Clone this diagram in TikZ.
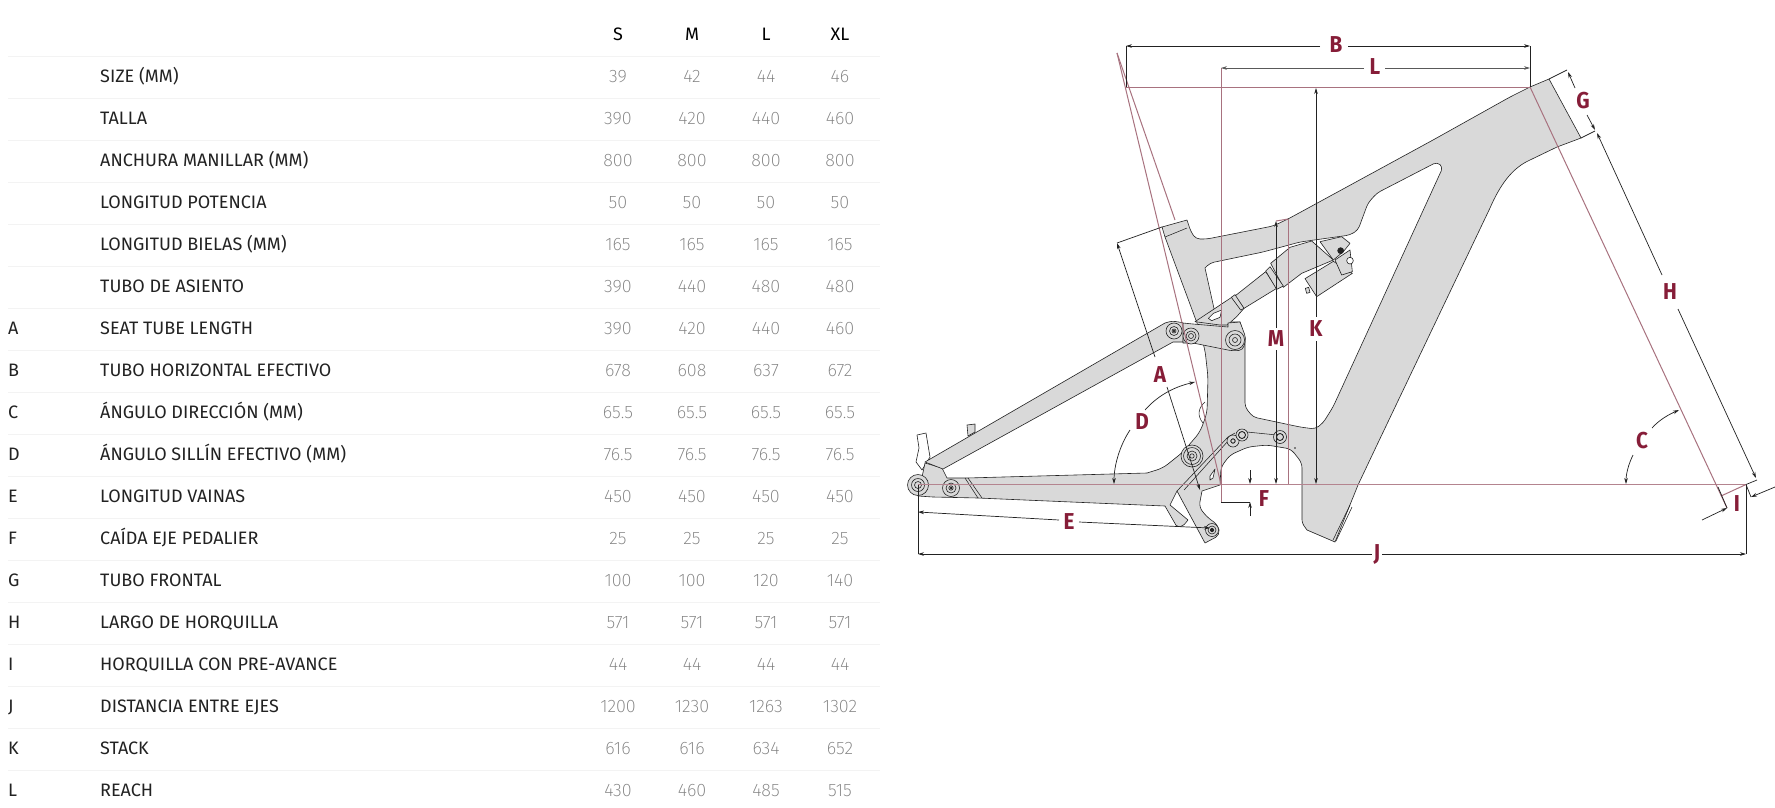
\documentclass[tikz,border=0pt]{standalone}
\usepackage{fontspec}
\usetikzlibrary{arrows.meta}
\setmainfont{Fira Sans}
\newfontfamily\numfont[UprightFont=* ExtraLight]{Fira Sans}
\newfontfamily\dimfont[UprightFont=* Bold,FakeStretch=0.9]{Fira Sans}
\definecolor{maroon}{HTML}{861D38}
\definecolor{redline}{HTML}{A8727F}
\definecolor{axisred}{HTML}{B4848F}
\definecolor{framefill}{HTML}{D9D9D9}
\definecolor{rowline}{HTML}{F3F3F3}
\definecolor{numgray}{HTML}{7E7E7E}
\definecolor{ink}{HTML}{222222}
\tikzset{
  labeltxt/.style={anchor=base west,inner sep=0pt,text=ink,font=\fontsize{18}{20}\selectfont},
  numtxt/.style={anchor=base,inner sep=0pt,text=numgray,font=\numfont\fontsize{18}{20}\selectfont},
  headtxt/.style={anchor=base,inner sep=0pt,text=black,font=\fontsize{18}{20}\selectfont},
  dimtxt/.style={inner sep=0pt,text=maroon,font=\dimfont\fontsize{23}{24}\selectfont},
  part/.style={fill=framefill,draw=ink,line width=.6pt,line join=round},
  hole/.style={fill=white,draw=ink,line width=.6pt,line join=round},
  seam/.style={draw=ink,line width=.55pt},
  redl/.style={draw=redline,line width=1pt},
  axisl/.style={draw=axisred,line width=1.7pt},
  dim/.style={draw=ink,line width=.7pt},
  dimend/.style={dim,-{Stealth[length=6pt,width=3.6pt]}},
  pivot/.style={draw=ink,line width=.6pt},
  cropS/.style={xshift=1120pt,yshift=-210pt,x=.33333pt,y=-.33333pt}
}
\begin{document}
\begin{tikzpicture}[x=1pt,y=-1pt]
\useasboundingbox (0,0) rectangle (1775,807);
\fill[white] (0,0) rectangle (1775,807);
% ---------- table
\foreach \i in {0,...,17}{
  \pgfmathsetmacro{\ly}{56+42*\i}
  \draw[rowline,line width=.8pt] (8,\ly) -- (880,\ly);
}
\node[headtxt] (hS) at (618,40) {S};
\node[headtxt] (hM) at (692,40) {M};
\node[headtxt] (hL) at (766,40) {L};
\node[headtxt] (hX) at (840,40) {XL};
\foreach \ltr/\lab/\va/\vb/\vc/\vd [count=\i from 0] in {
 {}/SIZE (MM)/39/42/44/46,
 {}/TALLA/390/420/440/460,
 {}/ANCHURA MANILLAR (MM)/800/800/800/800,
 {}/LONGITUD POTENCIA/50/50/50/50,
 {}/LONGITUD BIELAS (MM)/165/165/165/165,
 {}/TUBO DE ASIENTO/390/440/480/480,
 A/SEAT TUBE LENGTH/390/420/440/460,
 B/TUBO HORIZONTAL EFECTIVO/678/608/637/672,
 C/ÁNGULO DIRECCIÓN (MM)/65.5/65.5/65.5/65.5,
 D/ÁNGULO SILLÍN EFECTIVO (MM)/76.5/76.5/76.5/76.5,
 E/LONGITUD VAINAS/450/450/450/450,
 F/CAÍDA EJE PEDALIER/25/25/25/25,
 G/TUBO FRONTAL/100/100/120/140,
 H/LARGO DE HORQUILLA/571/571/571/571,
 I/HORQUILLA CON PRE-AVANCE/44/44/44/44,
 J/DISTANCIA ENTRE EJES/1200/1230/1263/1302,
 K/STACK/616/616/634/652,
 L/REACH/430/460/485/515}{
  \pgfmathsetmacro{\ry}{82+42*\i}
  \pgfmathsetmacro{\rn}{82.8+42*\i}
  \node[labeltxt] (let\i) at (8,\ry) {\ltr};
  \node[labeltxt] (lab\i) at (100,\ry) {\lab};
  \node[numtxt] (na\i) at (618,\rn) {\va};
  \node[numtxt] (nb\i) at (692,\rn) {\vb};
  \node[numtxt] (nc\i) at (766,\rn) {\vc};
  \node[numtxt] (nd\i) at (840,\rn) {\vd};
}
% ---------- frame: small rear pieces behind
\path[hole,fill=white] (917,435) -- (926,433) -- (928,445) -- (930,457) -- (922,470) -- (916,462) -- (919,448) -- cycle;
\path[part] (967,425) -- (975,424) -- (975,432) -- (968,436) -- cycle;
% main body
\path[part]
 (1162,227) -- (1187,220) [rounded corners=4pt] -- (1191,232) -- (1196,239) -- (1207,239)
 -- (1273,226) -- (1288,219) -- (1433,140) -- (1510,97) [sharp corners] -- (1530,87) -- (1549,79) -- (1581,138) -- (1557,147)
 -- (1530,160) .. controls (1512,168) and (1500,185) .. (1490,208) -- (1376,447) -- (1358,485) -- (1335,542) -- (1307,530)
 [rounded corners=3pt] -- (1302,523) [rounded corners=5pt] -- (1302,463) -- (1291,449) -- (1267,445) -- (1248,447) -- (1230,455) -- (1221,467) [sharp corners] -- (1220,485) -- (1202,491)
 [rounded corners=5pt] -- (1199,507) -- (1207,517) -- (1218,525) -- (1220,535) [sharp corners] -- (1205,543) -- (1177,491) -- (1170,505) -- (1188,520) [rounded corners=2pt] -- (1183,526) -- (1177,527) [sharp corners] -- (1165,506)
 -- (978,498) -- (933,497) -- (918,496) -- (925,463) -- (942,468) -- (947,478) -- (967,478) -- (1147,473)
 [rounded corners=6pt] -- (1163,468) -- (1183,452) -- (1200,432) -- (1207,413) -- (1208,377) -- (1205,350) [sharp corners] -- (1197,323) -- (1165,237) -- cycle;
% main triangle opening
\path[hole]
 [rounded corners=4pt] (1205,268) -- (1210,263) -- (1263,252) -- (1300,242) -- (1350,235) -- (1358,230) -- (1368,203) -- (1377,193) -- (1437,162) -- (1443,167)
 -- (1383,298) -- (1333,407) -- (1323,423) -- (1315,429) -- (1300,427) -- (1253,417) -- (1245,407) [sharp corners] -- (1245,338) -- (1240,322) -- (1217,322) -- cycle;
% shock (drawn in crop units)
\begin{scope}[cropS]
 \path[part] (225,335) -- (335,262) -- (345,258) -- (372,295) -- (350,320) -- (322,345) -- (300,345) -- cycle;
 \path[hole] (265,325) -- (280,310) -- (305,300) -- (300,322) -- (275,332) -- cycle;
 \path[part] (345,258) -- (437,185) -- (470,235) -- (372,295) -- cycle;
 \path[part] (334,262) -- (345,254) -- (372,295) -- (362,300) -- cycle;
 \path[part] (555,206) -- (640,154) -- (697,190) -- (590,260) -- cycle;
 \path[part] (645,150) -- (690,120) -- (697,185) -- (665,195) -- cycle;
 \path[part] (452,160) -- (510,112) -- (575,93) -- (640,150) -- (545,190) -- (490,232) -- cycle;
 \path[part] (437,183) -- (450,170) -- (490,228) -- (470,238) -- cycle;
 \path[part] (600,95) -- (665,80) -- (690,100) -- (670,125) -- (640,150) -- cycle;
 \path[part] (556,235) -- (566,232) -- (570,247) -- (560,250) -- cycle;
 \draw[pivot,fill=white] (690,152) circle[radius=10];
 \draw[pivot,fill=ink] (662,122) circle[radius=9];
\end{scope}
% seat stay and rocker
\path[part] (925,462) -- (1165,323) [rounded corners=3pt] -- (1172,321) -- (1185,323) [sharp corners] -- (1183,342) -- (1173,342) -- (943,469) -- cycle;
\path[part] (1183,323) -- (1193,324) -- (1228,327) -- (1228,323) -- (1240,322) [rounded corners=4pt] -- (1246,338) -- (1243,350) -- (1233,351) [sharp corners] -- (1193,343) -- (1183,343) -- cycle;
% detail lines on the frame
\draw[seam] (1165,237) -- (1187,228);
\draw[seam] (1177,491) -- (1228,437) -- (1235,433);
\draw[seam] (1184,490) -- (1228,441);
\draw[seam] (1247,432) -- (1277,435);
\draw[seam] (965,478) -- (978,498);
\draw[seam] (968,478) -- (982,498);
\draw[seam] (1205,402) .. controls (1198,408) and (1197,416) .. (1203,423);
\path[hole] (1210,476) -- (1215,469) -- (1213,478) -- (1210,480) -- cycle;
\draw[seam] (1350,505) -- (1333,540) (1352,507) -- (1336,541);
\fill[ink] (1295,448) circle[radius=.8];
% pivots
\foreach \px/\py/\ra/\rb/\rc [count=\n] in {918/485/10.5/6.5/3.5, 951/488/8.5/5/2.2, 1174/331/8/4.5/2, 1191/336/8/5/2.5, 1235/340/9.5/6/2.5, 1233/441/6/2.2/2.2, 1242/435/6/3.5/3.5, 1280/437/6.5/3.5/3.5, 1212/530/6.5/4/1.8}{
  \draw[pivot,fill=framefill] (\px,\py) circle[radius=\ra];
  \draw[pivot] (\px,\py) circle[radius=\rb];
  \draw[pivot] (\px,\py) circle[radius=\rc];
}
\draw[pivot,fill=framefill] (1192,456) circle[radius=11];
\draw[pivot] (1192,456) circle[radius=8.5] (1192,456) circle[radius=5] (1192,456) circle[radius=2.2];
\fill[ink] (951,488) circle[radius=1.5] (1174,331) circle[radius=1.3] (1212,530) circle[radius=2];
% ---------- named reference points
\coordinate (axR) at (918,484.5);
\coordinate (axF) at (1746,484.5);
\coordinate (bb)  at (1221,484.5);
\coordinate (apex) at (1117,53);
\coordinate (ttL) at (1126,87);
\coordinate (ttR) at (1530,87);
\coordinate (forkT) at (1530,87);
\coordinate (forkB) at (1727,508);
% ---------- red construction lines
\draw[axisl] (axR) -- (axF);
\draw[redl] (ttL) -- (ttR);
\draw[redl] (1221,68) -- (1221,502);
\draw[redl] (1288,219) -- (1288,484);
\draw[redl] (apex) -- (bb);
\draw[redl] (apex) -- (1175,220);
\draw[redl] (forkT) -- (forkB);
\draw[redl] (1721,496) -- (axF);
\draw[redl] (1276,221) -- (1288,219);
% ---------- dimensions
\coordinate (Bl) at (1126,46); \coordinate (Br) at (1530,46);
\node[dimtxt] (B) at (1336,45) {B};
\draw[dim] (ttL) -- (Bl);
\draw[dim] (ttR) -- (Br);
\draw[dimend] (1320,46) -- (Bl);
\draw[dimend] (1348,46) -- (Br);
\coordinate (Ll) at (1221,68); \coordinate (Lr) at (1530,68);
\node[dimtxt] (L) at (1375,67) {L};
\draw[dimend,draw=ink!75] (1364,68) -- (Ll);
\draw[dimend,draw=ink!75] (1385,68) -- (Lr);
% K
\node[dimtxt] (K) at (1316,329) {K};
\draw[dimend] (K.north) ++(0,-4) -- (1316,88);
\draw[dimend] (K.south) ++(0,4) -- (1316,484);
% M
\node[dimtxt] (M) at (1276,339) {M};
\draw[dimend] (M.north) ++(0,-3) -- (1276,221);
\draw[dimend] (M.south) ++(0,3) -- (1276,484);
% A
\node[dimtxt] (A) at (1160,375) {A};
\coordinate (Atop) at (1117,243);
\coordinate (Aend) at (1200,490);
\draw[dim] (Atop) -- (1162,227);
\draw[dimend] (1155,357) -- (Atop);
\draw[dimend] (1167,387) -- (Aend);
% D
\node[dimtxt] (D) at (1142,422) {D};
\draw[dimend] (1145,410) .. controls (1160,393) and (1178,386) .. (1195,382);
\draw[dimend] (1130,430) .. controls (1120,445) and (1114,465) .. (1114,484);
% E
\node[dimtxt] (E) at (1069,522) {E};
\coordinate (El) at (918,512); \coordinate (Er) at (1210,528);
\draw[dim] (axR) -- (918,554);
\draw[dimend] (1059,520) -- (El);
\draw[dimend] (1079,522) -- (Er);
% F
\node[dimtxt] (F) at (1264,499) {F};
\draw[dim] (1221,502) -- (1250,502);
\draw[dimend] (1250,470) -- (1250,484);
\draw[dimend] (1250,516) -- (1250,502);
% J
\node[dimtxt] (J) at (1377,554) {J};
\coordinate (Jl) at (918,554); \coordinate (Jr) at (1746,554);
\draw[dim] (axF) -- (Jr);
\draw[dimend] (J.west) ++(-2,0) -- (Jl);
\draw[dimend] (J.east) ++(2,0) -- (Jr);
% G and H
\node[dimtxt] (G) at (1583,101) {G};
\draw[dim] (1549,79) -- (1567,70);
\draw[dim] (1581,138) -- (1595,131);
\draw[dimend] (1575,88) -- (1568,72);
\draw[dimend] (1587,115) -- (1595,130);
\node[dimtxt] (H) at (1670,292) {H};
\draw[dimend] (1662,275) -- (1597,133);
\draw[dimend] (1678,309) -- (1756,478);
\draw[dim] (1757,480) -- (axF);
% C
\node[dimtxt] (C) at (1642,441) {C};
\draw[dimend] (1652,428) .. controls (1660,419) and (1670,414) .. (1679,410);
\draw[dimend] (1633,455) .. controls (1628,465) and (1626,475) .. (1626,484);
% I
\node[dimtxt] (I) at (1737,504) {I};
\draw[dim] (1718,487) -- (forkB);
\draw[dim] (axF) -- (1751,497);
\draw[dimend] (1702,520) -- (forkB);
\draw[dimend] (1775,487) -- (1751,497);
\end{tikzpicture}
\end{document}
